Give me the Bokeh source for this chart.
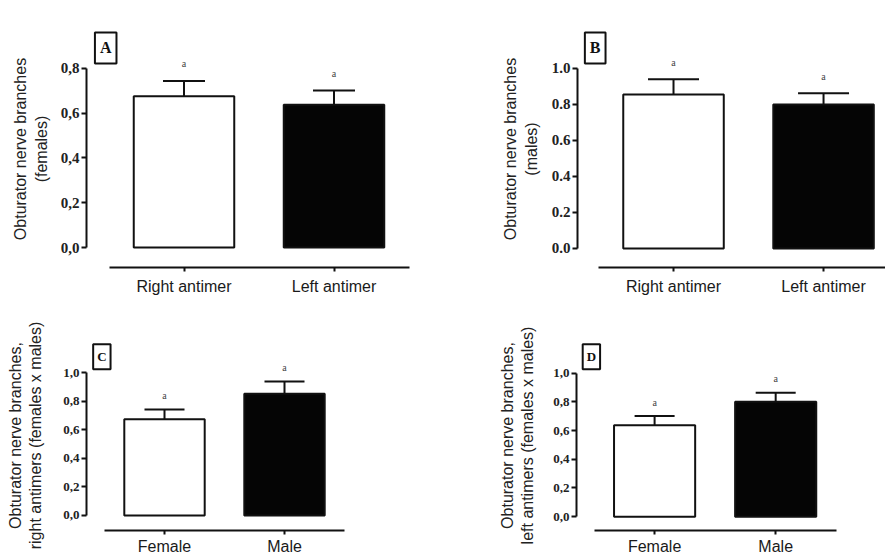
from bokeh.plotting import figure
from bokeh.models import (Range1d, FixedTicker, CustomJSTickFormatter, Whisker,
                          TeeHead, ColumnDataSource, Label)
from bokeh.layouts import column, row
from bokeh.core.properties import value
from bokeh.embed import file_html
from bokeh.resources import INLINE

# ---------------- data ----------------
side_groups = ["Right antimer", "Left antimer"]
sex_groups = ["Female", "Male"]

a_mean = [0.675, 0.637]   # females, right / left
a_sem = [0.069, 0.064]
b_mean = [0.855, 0.800]   # males, right / left
b_sem = [0.085, 0.063]
c_mean = [0.675, 0.855]   # right antimers, female / male
c_sem = [0.069, 0.085]
d_mean = [0.637, 0.800]   # left antimers, female / male
d_sem = [0.064, 0.063]

letters_sig = ["a", "a"]
yticks_08 = [0.0, 0.2, 0.4, 0.6, 0.8]
yticks_10 = [0.0, 0.2, 0.4, 0.6, 0.8, 1.0]

label_a = "Obturator nerve branches\n(females)"
label_b = "Obturator nerve branches\n(males)"
label_c = "Obturator nerve branches,\nright antimers (females x males)"
label_d = "Obturator nerve branches,\nleft antimers (females x males)"

BAR_FILLS = ["#ffffff", "#050505"]
INK = "#111111"


def panel(width, height, borders, xr, yr, cats, mean, sem, yticks, comma,
          letter, letter_size, letter_pad, cap_px, ylabel, ylab_size, ylab_standoff,
          tick_size, xlab_size, xlab_standoff, sig_offset):
    p = figure(width=width, height=height, output_backend="svg",
               toolbar_location=None, x_range=Range1d(*xr), y_range=Range1d(*yr))
    p.min_border_left, p.min_border_right, p.min_border_top, p.min_border_bottom = borders
    p.outline_line_color = None
    p.xgrid.visible = False
    p.ygrid.visible = False
    p.background_fill_color = "white"
    p.border_fill_color = "white"

    xs = [1, 2]
    src = ColumnDataSource(dict(x=xs, mean=mean, upper=[m + s for m, s in zip(mean, sem)],
                                fill=BAR_FILLS, sig=letters_sig))
    p.vbar(x="x", width=0.67, top="mean", bottom=0, source=src,
           fill_color="fill", line_color=INK, line_width=2)
    w = Whisker(source=src, base="x", lower="mean", upper="upper", dimension="height",
                line_color=INK, line_width=2, lower_head=None,
                upper_head=TeeHead(size=cap_px, line_color=INK, line_width=2))
    p.add_layout(w)
    p.text(x="x", y="upper", text="sig", source=src, y_offset=sig_offset,
           text_font=value("Liberation Serif"), text_font_size="10px",
           text_color="#444444", text_align="center", text_baseline="middle")

    # x axis
    xa = p.xaxis[0]
    xa.ticker = FixedTicker(ticks=xs)
    xa.major_label_overrides = {1: cats[0], 2: cats[1]}
    xa.bounds = (0.5, 2.5)
    xa.axis_line_width = 2
    xa.axis_line_color = INK
    xa.major_tick_line_width = 2
    xa.major_tick_line_color = INK
    xa.major_tick_out = 4
    xa.major_tick_in = 0
    xa.minor_tick_out = 0
    xa.minor_tick_in = 0
    xa.major_label_standoff = xlab_standoff
    xa.major_label_text_font = "Liberation Sans"
    xa.major_label_text_font_size = xlab_size
    xa.major_label_text_color = "#1a1a1a"

    # y axis
    ya = p.yaxis[0]
    ya.ticker = FixedTicker(ticks=yticks)
    if comma:
        ya.formatter = CustomJSTickFormatter(code="return tick.toFixed(1).replace('.', ',');")
    else:
        ya.formatter = CustomJSTickFormatter(code="return tick.toFixed(1);")
    ya.bounds = (yticks[0], yticks[-1])
    ya.axis_line_width = 2
    ya.axis_line_color = INK
    ya.major_tick_line_width = 2
    ya.major_tick_line_color = INK
    ya.major_tick_out = 5
    ya.major_tick_in = 0
    ya.minor_tick_out = 0
    ya.minor_tick_in = 0
    ya.major_label_standoff = 2
    ya.major_label_text_font = "Liberation Serif"
    ya.major_label_text_font_style = "bold"
    ya.major_label_text_font_size = tick_size
    ya.major_label_text_color = "#222222"
    ya.axis_label = ylabel
    ya.axis_label_text_font = "Liberation Sans"
    ya.axis_label_text_font_style = "normal"
    ya.axis_label_text_font_size = ylab_size
    ya.axis_label_text_color = "#222222"
    ya.axis_label_standoff = ylab_standoff

    lab = Label(x=0.478, y=yticks[-1] * 1.114, text=letter,
                text_font="Liberation Serif", text_font_style="bold",
                text_font_size=letter_size, text_color=INK,
                text_align="center", text_baseline="middle",
                border_line_color=INK, border_line_width=2,
                background_fill_color="white", padding=letter_pad)
    p.add_layout(lab)
    return p


pA = panel(440, 300, (86, 9, 30, 32), (0.35, 2.65), (-0.0889, 0.9689),
           side_groups, a_mean, a_sem, yticks_08, True, "A", "16px", (5, 7), 42,
           label_a, "16px", 8, "15px", "16px", 6, -17)
pB = panel(445, 300, (137, 0, 30, 33), (0.36, 2.413), (-0.1056, 1.2111),
           side_groups, b_mean, b_sem, yticks_10, False, "B", "16px", (5, 7), 51,
           label_b, "16px", 9, "15px", "16px", 6, -17)
pC = panel(440, 257, (86, 78, 40, 24), (0.35, 2.65), (-0.1057, 1.2281),
           sex_groups, c_mean, c_sem, yticks_10, True, "C", "13px", (4, 5), 40,
           label_c, "16px", 16, "13px", "16px", 3, -14)
pD = panel(445, 257, (136, 19, 40, 25), (0.355, 2.75), (-0.0966, 1.2275),
           sex_groups, d_mean, d_sem, yticks_10, True, "D", "13px", (4, 5), 40,
           label_d, "16px", 14, "13px", "16px", 3, -14)

layout = column(row(pA, pB), row(pC, pD))
open("out.html", "w").write(file_html(layout, INLINE))
